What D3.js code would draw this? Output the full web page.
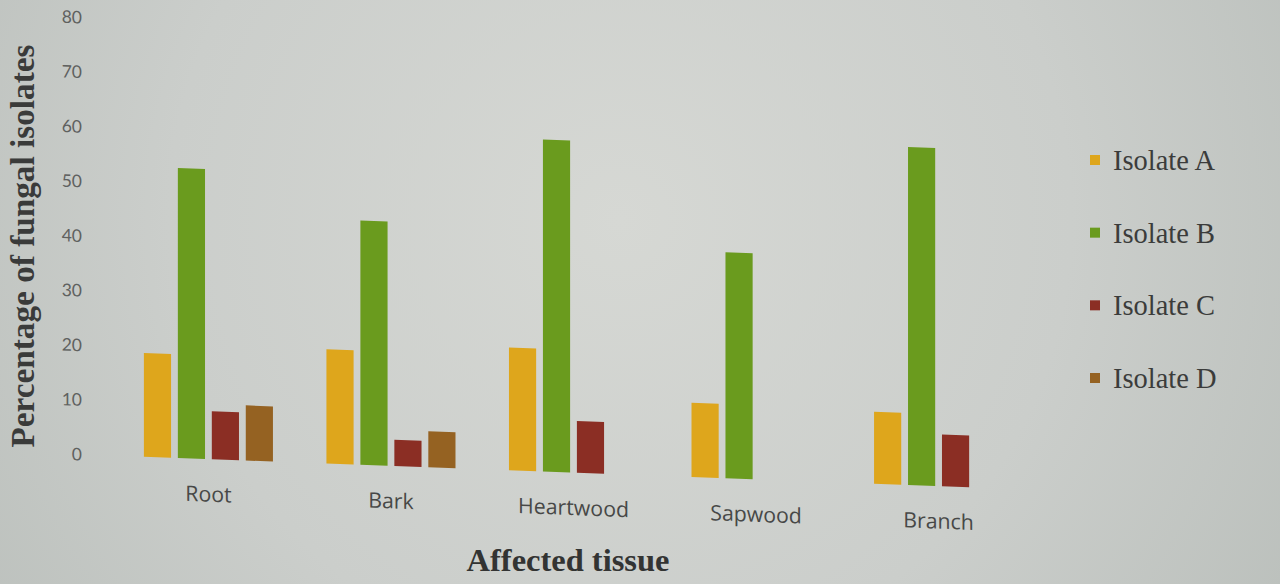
<!DOCTYPE html>
<html>
<head>
<meta charset="utf-8">
<script src="https://cdn.jsdelivr.net/npm/d3@7"></script>
<style>
  html, body { margin: 0; padding: 0; background: #c9ccc9; }
  svg { display: block; }
</style>
</head>
<body>
<svg id="chart" width="1280" height="584"></svg>
<script>
// Tissue categories and per-isolate percentages
const categories = ["Root", "Bark", "Heartwood", "Sapwood", "Branch"];
const seriesNames = ["Isolate A", "Isolate B", "Isolate C", "Isolate D"];
const isolateA = [19.0, 20.9, 22.5, 13.6, 13.2];
const isolateB = [53.1, 44.7, 60.8, 41.4, 61.9];
const isolateC = [8.8, 4.8, 9.5, null, 9.5];
const isolateD = [10.1, 6.6, null, null, null];
const yTickValues = [0, 10, 20, 30, 40, 50, 60, 70, 80];
const seriesColors = ["#dea61c", "#6a9b1e", "#8b2e24", "#956222"];
const yTitle = "Percentage of fungal isolates";
const xTitle = "Affected tissue";

const W = 1280, H = 584;
const svg = d3.select("#chart");

// Paper-like background with soft lighting
const defs = svg.append("defs");
const grad = defs.append("radialGradient").attr("id", "paper")
  .attr("gradientUnits", "userSpaceOnUse")
  .attr("cx", 620).attr("cy", 220).attr("r", 820);
grad.append("stop").attr("offset", 0).attr("stop-color", "#d6d8d4");
grad.append("stop").attr("offset", 0.55).attr("stop-color", "#cbcecb");
grad.append("stop").attr("offset", 1).attr("stop-color", "#b9beba");
svg.append("rect").attr("width", W).attr("height", H).attr("fill", "url(#paper)");

// Scales
const x0 = d3.scaleBand().domain(categories).range([80, 1067])
  .paddingInner(0.293).paddingOuter(0.35);
const x1 = d3.scaleBand().domain(seriesNames).range([0, x0.bandwidth()]).paddingInner(0.2);
const y = d3.scaleLinear().domain([0, 80]).range([457, 20]);

// The printed page is slightly tilted: shear the plot area
const skew = 0.037, skewOrigin = 150;
const plot = svg.append("g")
  .attr("transform", `matrix(1,${skew},0,1,0,${-skew * skewOrigin})`);

const seriesValues = [isolateA, isolateB, isolateC, isolateD];
const rows = categories.map((c, i) => ({
  category: c,
  values: seriesNames.map((s, j) => ({ series: s, value: seriesValues[j][i], color: seriesColors[j] }))
    .filter(d => d.value != null)
}));

const groups = plot.selectAll("g.cat").data(rows).join("g")
  .attr("class", "cat")
  .attr("transform", d => `translate(${x0(d.category)},0)`);

groups.selectAll("rect").data(d => d.values).join("rect")
  .attr("x", d => x1(d.series))
  .attr("width", x1.bandwidth())
  .attr("y", d => y(d.value))
  .attr("height", d => y(0) - y(d.value))
  .attr("fill", d => d.color);

// Helper: scale a text's font size to a given rendered width
function fitWidth(sel, target) {
  const len = sel.node().getComputedTextLength();
  const fs = parseFloat(sel.attr("font-size"));
  const size = fs * target / len;
  sel.attr("font-size", size);
  return size;
}

// Y axis tick labels (no axis line, no ticks)
const yAxis = plot.append("g").attr("transform", "translate(84,0)")
  .call(d3.axisLeft(y).tickValues(yTickValues).tickSize(0).tickPadding(2));
yAxis.select(".domain").remove();
yAxis.selectAll("text")
  .attr("font-family", "Lato, 'Open Sans', sans-serif")
  .attr("font-size", 17.5)
  .attr("fill", "#5f615f");

// Category labels
const xAxis = plot.append("g").attr("transform", `translate(0,${y(0)})`)
  .call(d3.axisBottom(x0).tickSize(0));
xAxis.select(".domain").remove();
const catText = xAxis.selectAll("text")
  .attr("y", 35).attr("dy", "0.35em")
  .attr("font-family", "'Open Sans', Lato, sans-serif")
  .attr("font-size", 20)
  .attr("fill", "#474847");
const heart = catText.filter(d => d === "Heartwood");
const catSize = fitWidth(heart, 111);
catText.attr("font-size", catSize);

// Axis titles
const yt = svg.append("text")
  .attr("transform", "translate(34,246) rotate(-90)")
  .attr("text-anchor", "middle")
  .attr("font-family", "'Liberation Serif', 'Times New Roman', serif")
  .attr("font-weight", "bold")
  .attr("font-size", 24)
  .attr("fill", "#3a3b3a")
  .text(yTitle);
fitWidth(yt, 403);

const xt = svg.append("text")
  .attr("x", 568).attr("y", 560).attr("dy", "0.35em")
  .attr("text-anchor", "middle")
  .attr("font-family", "'Liberation Serif', 'Times New Roman', serif")
  .attr("font-weight", "bold")
  .attr("font-size", 26)
  .attr("fill", "#333433")
  .text(xTitle);
fitWidth(xt, 203);

// Legend
const legendY = d3.scalePoint().domain(seriesNames).range([160, 378]);
const legend = svg.append("g");
const items = legend.selectAll("g").data(seriesNames).join("g")
  .attr("transform", d => `translate(1090,${legendY(d)})`);
items.append("rect")
  .attr("x", 0).attr("y", -5).attr("width", 10).attr("height", 10)
  .attr("fill", (d, i) => seriesColors[i]);
const legText = items.append("text")
  .attr("x", 23).attr("dy", "0.35em")
  .attr("font-family", "'Liberation Serif', 'Times New Roman', serif")
  .attr("font-size", 26)
  .attr("fill", "#3b3c3b")
  .text(d => d);
const legSize = fitWidth(legText.filter((d, i) => i === 0), 102);
legText.attr("font-size", legSize);
</script>
</body>
</html>
